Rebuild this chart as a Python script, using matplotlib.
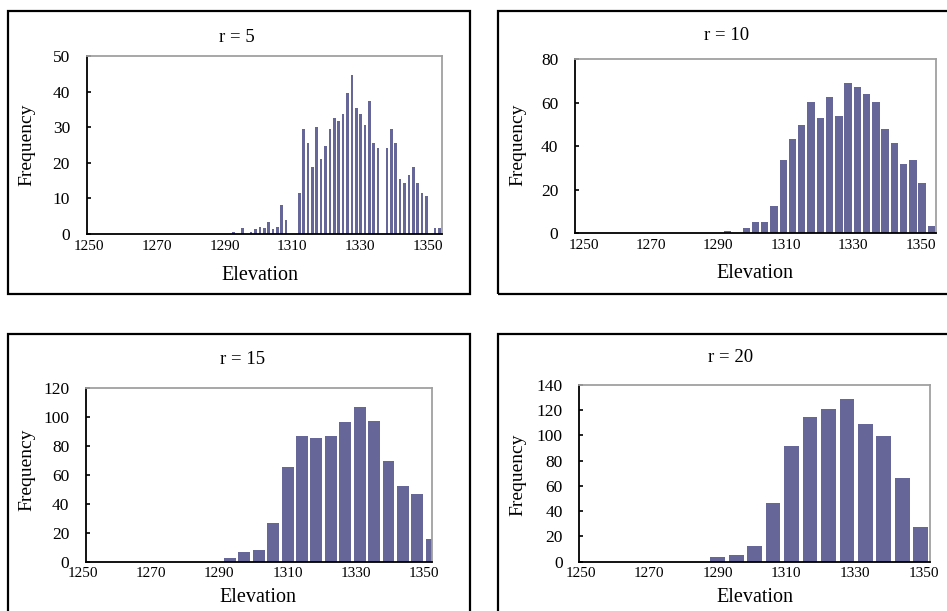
import numpy as np
import matplotlib.pyplot as plt
from matplotlib.patches import Rectangle

W, H = 947, 611
bar_color = '#666699'
plt.rcParams['font.family'] = ['Liberation Serif', 'DejaVu Serif']

titles = ['r = 5', 'r = 10', 'r = 15', 'r = 20']
x_ticks = [1250, 1270, 1290, 1310, 1330, 1350]

# frequencies per elevation bin (left to right across the axis)
freq_r5 = [0] * 33 + [0.7, 0, 1.6, 0, 0.7, 1.5, 2.1, 1.6, 3.3, 1.5, 2.1, 8.2, 3.8, 0, 0,
                      11.5, 29.5, 25.7, 18.8, 30, 21, 24.6, 29.5, 32.7, 31.8, 33.8, 39.7, 44.7,
                      35.4, 33.8, 30.7, 37.5, 25.7, 24.2, 0, 24.2, 29.5, 25.7, 15.4, 14.3, 16.5,
                      18.7, 14.3, 11.6, 10.7, 0, 1.8, 1.8]
freq_r10 = [0] * 15 + [0.3, 0.9, 0.3, 2.6, 5.4, 5.4, 12.6, 33.7, 43.4, 49.7, 60.2, 53.2,
                       62.8, 54.1, 69, 67.1, 63.9, 60.2, 47.8, 41.5, 31.9, 33.7, 23, 3.5]
freq_r15 = [0] * 10 + [2.8, 6.9, 8.3, 27, 65.8, 87, 85.6, 87, 96.5, 107, 97.6, 70, 52.4, 47, 16]
freq_r20 = [0] * 7 + [3.4, 5, 12.7, 46.2, 91.9, 114.9, 121, 128.6, 108.8, 99.6, 66, 27.7]

# layout in pixels: axes (left, top, right, bottom), box, title, labels
panels = [
    dict(freq=freq_r5, xlim=(1249.3, 1354.2), centered=False, width=0.6, ymax=50, ystep=10,
         ax_px=(86.7, 56, 441.7, 234), box=(8, 11, 470, 294),
         title=(237, 37), ylab=(27, 145), xlab=(260, 275)),
    dict(freq=freq_r10, xlim=(1247.5, 1354.5), centered=False, width=0.8, ymax=80, ystep=20,
         ax_px=(575, 59.3, 936, 233.3), box=(498, 11, 965, 294),
         title=(727, 35), ylab=(518, 145), xlab=(755, 273)),
    dict(freq=freq_r15, xlim=(1250.8, 1352.4), centered=True, width=0.83, ymax=120, ystep=20,
         ax_px=(86, 388.3, 431.7, 561.7), box=(8, 334, 470, 630),
         title=(243, 359), ylab=(27, 470), xlab=(258, 598)),
    dict(freq=freq_r20, xlim=(1249.6, 1351.9), centered=False, width=0.8, ymax=140, ystep=20,
         ax_px=(579.3, 385, 930, 561.7), box=(498, 334, 965, 630),
         title=(731, 358), ylab=(518, 475), xlab=(755, 598)),
]

fig = plt.figure(figsize=(W / 100, H / 100), dpi=100)

for p, title in zip(panels, titles):
    l, t, r, b = p['ax_px']
    ax = fig.add_axes([l / W, 1 - b / H, (r - l) / W, (b - t) / H])
    n = len(p['freq'])
    lo, hi = p['xlim']
    if p['centered']:
        centers = np.linspace(lo, hi, n)
        step = (hi - lo) / (n - 1)
    else:
        edges = np.linspace(lo, hi, n + 1)
        centers = (edges[:-1] + edges[1:]) / 2
        step = (hi - lo) / n
    ax.bar(centers, p['freq'], width=step * p['width'], color=bar_color, linewidth=0)
    ax.set_xlim(lo, hi)
    ax.set_ylim(0, p['ymax'])
    ax.set_yticks(np.arange(0, p['ymax'] + 1, p['ystep']))
    ax.set_xticks([])
    ax.tick_params(axis='y', direction='in', length=3, width=1.2, pad=12, labelsize=12.5)
    for v in x_ticks:
        ax.annotate(str(v), xy=(v, 0), xycoords=('data', 'axes fraction'),
                    xytext=(0, -4), textcoords='offset points', ha='center', va='top',
                    fontsize=11, annotation_clip=False)
    for s in ['left', 'bottom']:
        ax.spines[s].set_color('black')
        ax.spines[s].set_linewidth(1.3)
    for s in ['top', 'right']:
        ax.spines[s].set_color('#a0a0a0')
        ax.spines[s].set_linewidth(1.3)

    bl, bt, br, bb = p['box']
    fig.add_artist(Rectangle((bl / W, 1 - bb / H), (br - bl) / W, (bb - bt) / H,
                             transform=fig.transFigure, fill=False, edgecolor='black',
                             linewidth=1.6))
    fig.text(p['title'][0] / W, 1 - p['title'][1] / H, title, ha='center', va='center',
             fontsize=13.5)
    fig.text(p['ylab'][0] / W, 1 - p['ylab'][1] / H, 'Frequency', ha='center', va='center',
             rotation=90, fontsize=14)
    fig.text(p['xlab'][0] / W, 1 - p['xlab'][1] / H, 'Elevation', ha='center', va='center',
             fontsize=14.5)

fig.savefig('out.png', dpi=100)
